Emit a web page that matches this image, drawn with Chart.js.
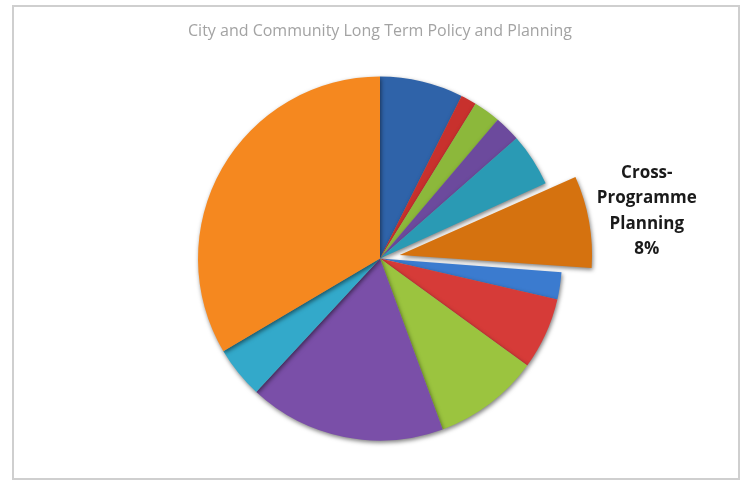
<!DOCTYPE html>
<html>
<head>
<meta charset="utf-8">
<script src="https://cdn.jsdelivr.net/npm/chart.js@4"></script>
<style>
  html, body { margin: 0; padding: 0; background: #fff; }
  #wrap { width: 742px; height: 486px; position: relative; }
</style>
</head>
<body>
<div id="wrap"><canvas id="pieChart"></canvas></div>
<script>
// values (percent of total, clockwise from 12 o'clock)
const categories = ['Slice 1', 'Slice 2', 'Slice 3', 'Slice 4', 'Slice 5',
  'Cross-Programme Planning', 'Slice 7', 'Slice 8', 'Slice 9', 'Slice 10', 'Slice 11', 'Slice 12'];
const shares = [7.4, 1.4, 2.4, 2.3, 4.7, 8, 2.4, 6.4, 9.4, 17.5, 4.6, 33.5];
const sliceColors = ['#2f63a9', '#c8312d', '#8cb83b', '#6c4a9d', '#2a9ab4', '#d5720f',
  '#3b7bcf', '#d63b38', '#9bc43f', '#7a4fa8', '#33a9ca', '#f5881f'];
const explodedIndex = 5;

// frame around the chart
const framePlugin = {
  id: 'frame',
  beforeDraw(chart) {
    const ctx = chart.ctx;
    ctx.save();
    ctx.strokeStyle = '#cfcfcf';
    ctx.lineWidth = 2;
    ctx.strokeRect(13, 6, 726, 473);
    ctx.restore();
  }
};

// soft shadow under the slices
const shadowPlugin = {
  id: 'shadow',
  beforeDatasetsDraw(chart) {
    const ctx = chart.ctx;
    ctx.save();
    ctx.shadowColor = 'rgba(0,0,0,0.5)';
    ctx.shadowBlur = 4;
    ctx.shadowOffsetX = 1;
    ctx.shadowOffsetY = 2;
  },
  afterDatasetsDraw(chart) {
    chart.ctx.restore();
  }
};

// label for the exploded slice
const sliceLabel = {
  id: 'sliceLabel',
  afterDatasetsDraw(chart) {
    const arc = chart.getDatasetMeta(0).data[explodedIndex];
    const { x, y, startAngle, endAngle, outerRadius } = arc.getProps(['x', 'y', 'startAngle', 'endAngle', 'outerRadius'], true);
    const mid = (startAngle + endAngle) / 2;
    const r = outerRadius + 89;
    const lx = x + Math.cos(mid) * r;
    const ly = y + Math.sin(mid) * r;
    const pct = Math.round(shares[explodedIndex] / shares.reduce((a, b) => a + b, 0) * 100);
    const lines = ['Cross-', 'Programme', 'Planning', pct + '%'];
    const ctx = chart.ctx;
    ctx.save();
    ctx.font = 'bold 17px "Open Sans", "DejaVu Sans", sans-serif';
    ctx.fillStyle = '#1a1a1a';
    ctx.textAlign = 'center';
    ctx.textBaseline = 'middle';
    const lh = 25.5;
    lines.forEach((t, i) => {
      ctx.fillText(t, lx, ly + (i - (lines.length - 1) / 2) * lh);
    });
    ctx.restore();
  }
};

// Chart.js draws an arc's offset at a quarter of the option value
const offsets = shares.map((v, i) => i === explodedIndex ? 80 : 0);

const pieCtx = document.getElementById('pieChart').getContext('2d');
const pieChart = new Chart(pieCtx, {
  type: 'pie',
  data: {
    labels: categories,
    datasets: [{
      data: shares,
      backgroundColor: sliceColors,
      borderWidth: 0,
      offset: offsets,
      radius: 182
    }]
  },
  options: {
    responsive: true,
    maintainAspectRatio: false,
    animation: false,
    layout: { padding: { left: 18, right: 0, top: 0, bottom: 20 } },
    plugins: {
      legend: { display: false },
      tooltip: { enabled: false },
      title: {
        display: true,
        text: 'City and Community Long Term Policy and Planning',
        color: '#a3a3a3',
        font: { size: 16, family: '"Open Sans", sans-serif', weight: 'normal' },
        padding: { top: 22, bottom: 10 }
      }
    }
  },
  plugins: [framePlugin, shadowPlugin, sliceLabel]
});
</script>
</body>
</html>
